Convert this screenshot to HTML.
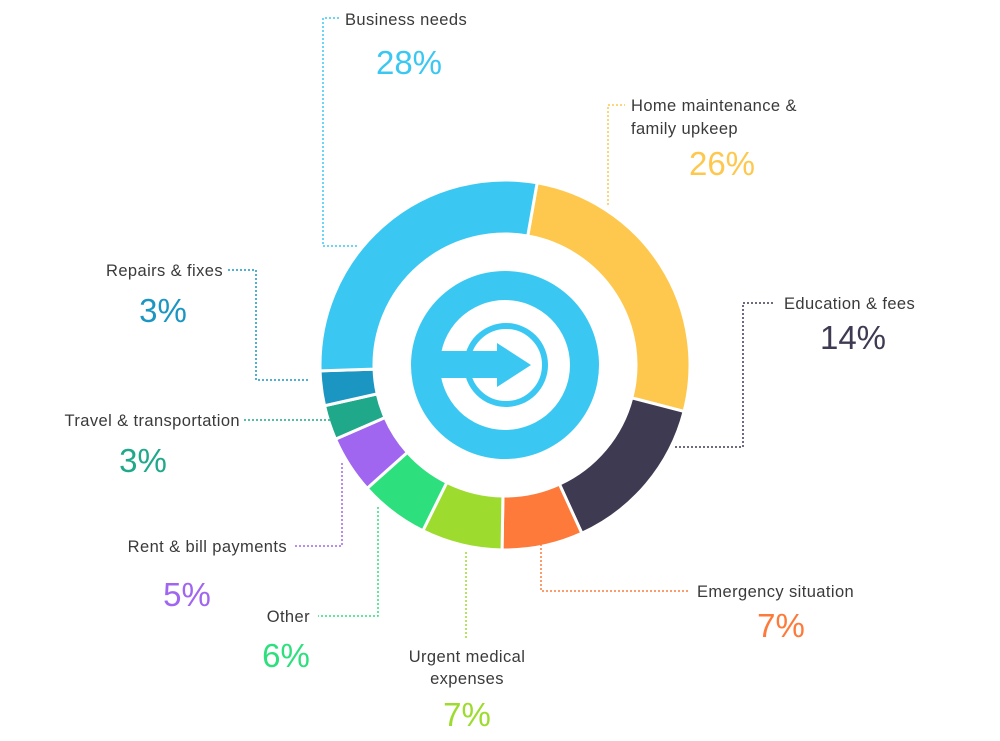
<!DOCTYPE html>
<html><head><meta charset="utf-8"><style>
html,body{margin:0;padding:0;background:#fff;}
svg{display:block;font-family:"Liberation Sans",sans-serif;}
.lbl{font-size:16.5px;fill:#3a3a3a;letter-spacing:0.4px;}
.pct{font-size:33px;font-weight:300;}
</style></head><body>
<svg id="chart" width="1000" height="741" viewBox="0 0 1000 741">
<g id="slices"></g>
<g>
<circle cx="505" cy="365" r="94" fill="#3ac8f3"/>
<circle cx="505" cy="365" r="65" fill="#fff"/>
<circle cx="506" cy="365" r="39" fill="none" stroke="#3ac8f3" stroke-width="6"/>
<rect x="434" y="351" width="66" height="27" fill="#3ac8f3"/>
<polygon points="497,343 531,365 497,387" fill="#3ac8f3"/>
</g>
<g id="leaders" fill="none" stroke-width="1.5" stroke-dasharray="2,2"></g>
<g id="labels"></g>
</svg>
<script>
const categories=["Home maintenance & family upkeep","Education & fees","Emergency situation","Urgent medical expenses","Other","Rent & bill payments","Travel & transportation","Repairs & fixes","Business needs"];
const values=[26,14,7,7,6,5,3,3,28];
const colors=["#fec84e","#3d3a52","#fe7a3a","#9ddc2f","#2ee07d","#a066f0","#1fa88a","#1b96c2","#3ac8f3"];
const pctLabels=["26%","14%","7%","7%","6%","5%","3%","3%","28%"];
const NS="http://www.w3.org/2000/svg";
const cx=505,cy=365,R=185,r=131,start=10;
const total=values.reduce((a,b)=>a+b,0);
function pt(a,rad){const t=(a-90)*Math.PI/180;return [cx+rad*Math.cos(t),cy+rad*Math.sin(t)];}
let a=start;
const sg=document.getElementById('slices');
values.forEach((v,i)=>{
 const a2=a+v/total*360;
 const p1=pt(a,R),p2=pt(a2,R),p3=pt(a2,r),p4=pt(a,r);
 const lg=(a2-a)>180?1:0;
 const p=document.createElementNS(NS,'path');
 p.setAttribute('d',`M${p1}A${R},${R} 0 ${lg} 1 ${p2}L${p3}A${r},${r} 0 ${lg} 0 ${p4}Z`);
 p.setAttribute('fill',colors[i]);p.setAttribute('stroke','#fff');p.setAttribute('stroke-width','3');
 
 
 sg.appendChild(p);a=a2;
});
const lay=[
 {pl:"608,205 608,105 625,105",tx:[[631,111,"start","Home maintenance &"],[631,134,"start","family upkeep"]],px:722,py:175,anc:"middle"},
 {pl:"675,447 743,447 743,303 775,303",tx:[[784,309,"start","Education & fees"]],px:853,py:349,anc:"middle"},
 {pl:"541,520 541,591 690,591",tx:[[697,597,"start","Emergency situation"]],px:781,py:637,anc:"middle"},
 {pl:"466,552 466,640",tx:[[467,662,"middle","Urgent medical"],[467,684,"middle","expenses"]],px:467,py:726,anc:"middle"},
 {pl:"378,507 378,616 318,616",tx:[[310,622,"end","Other"]],px:286,py:667,anc:"middle"},
 {pl:"342,463 342,546 293,546",tx:[[287,552,"end","Rent & bill payments"]],px:187,py:606,anc:"middle"},
 {pl:"330,420 243,420",tx:[[240,426,"end","Travel & transportation"]],px:143,py:472,anc:"middle"},
 {pl:"308,380 256,380 256,270 226,270",tx:[[223,276,"end","Repairs & fixes"]],px:163,py:322,anc:"middle"},
 {pl:"357,246 323,246 323,18 340,18",tx:[[345,25,"start","Business needs"]],px:409,py:74,anc:"middle"}
];
const lg=document.getElementById('leaders'),tg=document.getElementById('labels');
lay.forEach((L,i)=>{
 const pl=document.createElementNS(NS,'polyline');
 pl.setAttribute('points',L.pl);pl.setAttribute('stroke',colors[i]);
 
 
 lg.appendChild(pl);
 L.tx.forEach(t=>{
  const e=document.createElementNS(NS,'text');
  e.setAttribute('x',t[0]);e.setAttribute('y',t[1]);e.setAttribute('text-anchor',t[2]);
  e.setAttribute('class','lbl');e.textContent=t[3];
  
  
  tg.appendChild(e);
 });
 const e=document.createElementNS(NS,'text');
 e.setAttribute('x',L.px);e.setAttribute('y',L.py);e.setAttribute('text-anchor',L.anc);
 e.setAttribute('class','pct');e.setAttribute('fill',colors[i]);e.textContent=pctLabels[i];
 
 
 tg.appendChild(e);
});
</script>
</body></html>
